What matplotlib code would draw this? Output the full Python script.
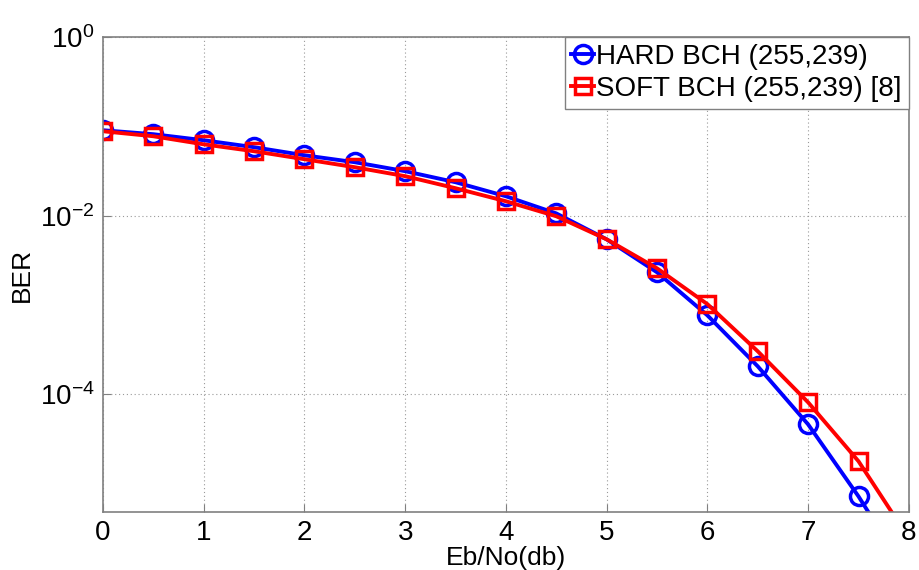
import numpy as np
import matplotlib
matplotlib.use("Agg")
import matplotlib.pyplot as plt

ebno = [0, 0.5, 1, 1.5, 2, 2.5, 3, 3.5, 4, 4.5, 5, 5.5, 6, 6.5, 7, 7.5, 8]
ber_hard = [0.0906, 0.0818, 0.0700, 0.0585, 0.0475, 0.0397, 0.0315, 0.0237, 0.0165,
            0.0106, 0.00543, 0.00232, 7.64e-4, 2.05e-4, 4.58e-5, 7.15e-6, 9.1e-7]
ber_soft = [0.0883, 0.0776, 0.0630, 0.0527, 0.0429, 0.0349, 0.0277, 0.0203, 0.0145,
            0.00985, 0.00543, 0.00257, 0.00102, 3.02e-4, 8.09e-5, 1.77e-5, 2.42e-6]

plt.rcParams['font.family'] = ['Liberation Sans', 'DejaVu Sans']
plt.rcParams['mathtext.fontset'] = 'custom'
plt.rcParams['mathtext.rm'] = 'Liberation Sans'
plt.rcParams['mathtext.it'] = 'Liberation Sans'

fig = plt.figure(figsize=(9.19, 5.70), dpi=100)
ax = fig.add_axes([0.112, 0.1018, 0.877, 0.833])

ax.semilogy(ebno, ber_hard, color='#0000ff', lw=2.8, marker='o', ms=13,
            mfc='none', mew=2.5, label='HARD BCH (255,239)')
ax.semilogy(ebno, ber_soft, color='#ff0000', lw=2.8, marker='s', ms=12,
            mfc='none', mew=2.5, label='SOFT BCH (255,239) [8]')

ax.set_xlim(0, 8)
ax.set_ylim(10 ** -5.32, 1)
ax.set_xticks(range(0, 9))
ax.set_yticks([1, 1e-2, 1e-4])
ax.yaxis.set_minor_locator(matplotlib.ticker.NullLocator())
ax.grid(True, which='major', color='#999999', ls=(0, (1, 2.5)), lw=0.8)

for s in ax.spines.values():
    s.set_color('#808080')
    s.set_linewidth(1.2)
ax.tick_params(direction='in', colors='#808080', labelcolor='black',
               labelsize=20, length=6, pad=6)

ax.set_xlabel('Eb/No(db)', fontsize=19, labelpad=0)
ax.set_ylabel('BER', fontsize=19, labelpad=4)

leg = ax.legend(loc='upper right', fontsize=20, borderaxespad=0, handlelength=0.8,
                handletextpad=0.1, borderpad=0.25, labelspacing=0.2,
                fancybox=False, framealpha=1)
leg.get_frame().set_edgecolor('#808080')
leg.get_frame().set_linewidth(1.0)

fig.savefig('out.png', dpi=100)
